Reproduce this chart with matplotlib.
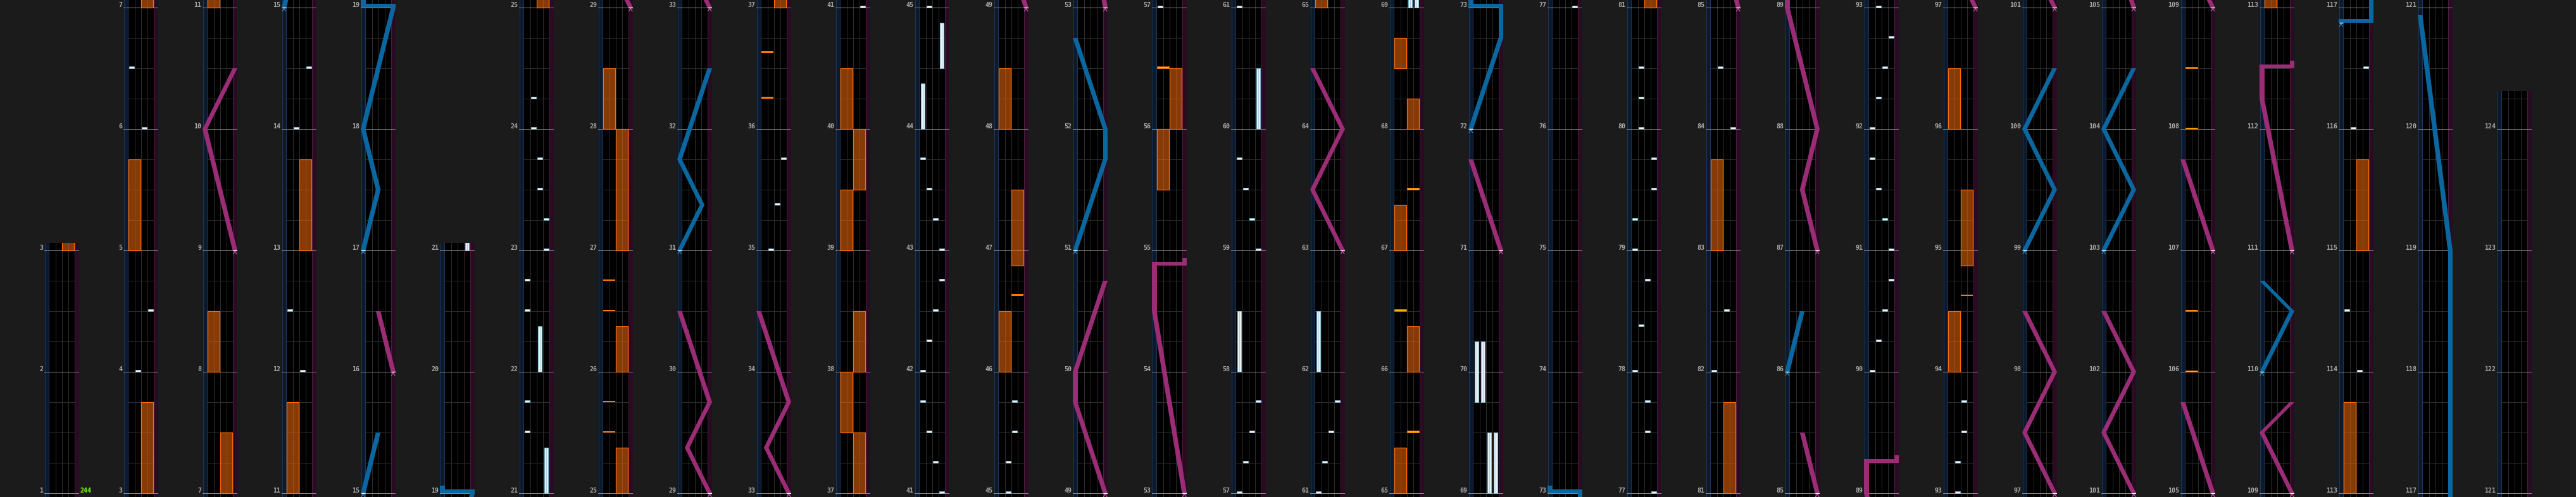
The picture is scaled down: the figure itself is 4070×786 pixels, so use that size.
import math
import matplotlib
matplotlib.use("Agg")
import matplotlib.pyplot as plt
from matplotlib.patches import Rectangle, Polygon

# ------------------------------------------------------------------
# DATA  (times are in measures, lanes 0..3 = BT A..D, side 0/1 = FX L/R)
# ------------------------------------------------------------------
column_breaks = [1, 3, 7, 11, 15, 19, 21, 25, 29, 33, 37, 41, 45, 49, 53, 57, 61,
                 65, 69, 73, 77, 81, 85, 89, 93, 97, 101, 105, 109, 113, 117, 121]
song_end = 124.25
bpm_marks = [(1, "244")]

bt_chips = [
    (4.0, 1), (4.5, 3), (6.0, 2), (6.5, 0),
    (12.0, 2), (12.5, 0), (14.0, 1), (14.5, 3),
    (21.5, 0), (21.75, 0), (22.5, 0), (22.75, 0), (23.0, 3), (23.25, 3),
    (23.5, 2), (23.75, 2), (24.0, 1), (24.25, 1),
    (35.0, 1), (35.375, 2), (35.75, 3),
    (41.0, 3), (41.25, 2), (41.5, 1), (41.75, 0), (42.0, 0), (42.25, 1),
    (42.5, 2), (42.75, 3), (43.0, 3), (43.25, 2), (43.5, 1), (43.75, 0),
    (45.0, 1), (45.25, 1), (45.5, 2), (45.75, 2),
    (57.0, 0), (57.25, 1), (57.5, 2), (57.75, 3),
    (59.0, 3), (59.25, 2), (59.5, 1), (59.75, 0),
    (61.0, 0), (61.25, 1), (61.5, 2), (61.75, 3),
    (77.0, 3), (77.5, 2), (77.75, 2), (78.0, 0), (78.375, 1), (78.75, 2),
    (79.0, 0), (79.25, 0), (79.5, 3), (79.75, 3), (80.0, 1), (80.25, 1), (80.5, 1),
    (82.0, 0), (82.5, 2), (84.0, 3), (84.5, 1),
    (90.0, 0), (90.25, 1), (90.5, 2), (90.75, 3), (91.0, 3), (91.25, 2),
    (91.5, 1), (91.75, 0), (92.0, 0), (92.25, 1), (92.5, 2), (92.75, 3),
    (93.0, 1), (93.25, 1), (93.5, 2), (93.75, 2),
    (114.0, 2), (114.5, 0), (116.0, 1), (116.5, 3),
]

bt_holds = [
    (21.0, 21.375, 3), (22.0, 22.375, 2), (44.0, 44.375, 0), (44.5, 44.875, 3),
    (58.0, 58.5, 0), (60.0, 60.5, 3), (62.0, 62.5, 0),
    (69.0, 69.5, 2), (69.0, 69.5, 3), (69.75, 70.25, 0), (69.75, 70.25, 1),
]

fx_holds = [
    (3.0, 3.75, 1), (5.0, 5.75, 0), (7.0, 7.5, 1), (8.0, 8.5, 0),
    (11.0, 11.75, 0), (13.0, 13.75, 1),
    (25.0, 25.375, 1), (26.0, 26.375, 1), (27.0, 28.0, 1), (28.0, 28.5, 0),
    (37.0, 37.5, 1), (37.5, 38.0, 0), (38.0, 38.5, 1), (39.0, 39.5, 0),
    (39.5, 40.0, 1), (40.0, 40.5, 0),
    (46.0, 46.5, 0), (46.875, 47.5, 1), (48.0, 48.5, 0),
    (55.5, 56.0, 0), (56.0, 56.5, 1),
    (65.0, 65.375, 0), (66.0, 66.375, 1), (67.0, 67.375, 0), (68.0, 68.25, 1),
    (68.5, 68.75, 0),
    (81.0, 81.75, 1), (83.0, 83.75, 0),
    (94.0, 94.5, 0), (94.875, 95.5, 1), (96.0, 96.5, 0),
    (113.0, 113.75, 0), (115.0, 115.75, 1),
]

# plain FX chips (orange) and FX chips with a sound effect (amber)
fx_chips = [
    (25.5, 0), (25.75, 0), (26.5, 0), (26.75, 0), (36.25, 0), (36.625, 0),
    (46.625, 1), (94.625, 1),
]
fx_chips_se = [
    (56.5, 0), (65.5, 1), (66.5, 0), (67.5, 1),
    (106.0, 0), (106.5, 0), (108.0, 0), (108.5, 0),
]

# lasers: list of (time, position 0..1); equal consecutive times = slam
laser_left = [
    [(15.0, 0), (15.5, 0.5)],
    [(17.0, 0), (17.5, 0.5), (18.0, 0), (19.0, 1), (19.0, 0)],
    [(31.0, 0), (31.375, 0.75), (31.75, 0), (32.5, 1)],
    [(51.0, 0), (51.75, 1), (52.0, 1), (52.75, 0)],
    [(72.0, 0), (72.75, 1), (73.0, 1), (73.0, 0)],
    [(86.0, 0), (86.5, 0.5)],
    [(99.0, 0), (99.5, 1), (100.0, 0), (100.5, 1)],
    [(103.0, 0), (103.5, 1), (104.0, 0), (104.5, 1)],
    [(110.0, 0), (110.5, 1), (110.75, 0)],
    [(116.875, 0), (116.875, 1), (119.0, 1), (120.9375, 0)],
]
laser_right = [
    [(9.0, 1), (10.0, 0), (10.5, 1)],
    [(16.0, 1), (16.5, 0.5)],
    [(29.0, 1), (29.375, 0.25), (29.75, 1), (30.5, 0)],
    [(33.0, 1), (33.375, 0.25), (33.75, 1), (34.5, 0)],
    [(49.0, 1), (49.75, 0), (50.0, 0), (50.75, 1)],
    [(53.0, 1), (54.5, 0), (54.875, 0), (54.875, 1)],
    [(63.0, 1), (63.5, 0), (64.0, 1), (64.5, 0)],
    [(71.0, 1), (71.75, 0)],
    [(85.0, 1), (85.5, 0.5)],
    [(87.0, 1), (87.5, 0.5), (88.0, 1), (89.0, 0), (89.25, 0), (89.25, 1)],
    [(97.0, 1), (97.5, 0), (98.0, 1), (98.5, 0)],
    [(101.0, 1), (101.5, 0), (102.0, 1), (102.5, 0)],
    [(105.0, 1), (105.75, 0)],
    [(107.0, 1), (107.75, 0)],
    [(109.0, 1), (109.5, 0), (109.75, 1)],
    [(111.0, 1), (112.25, 0), (112.5, 0), (112.5, 1)],
]

# ------------------------------------------------------------------
# STYLE / LAYOUT
# ------------------------------------------------------------------
FIG_W, FIG_H = 4070, 786
PX = 192.0            # pixels per measure
COL_W = 55.0          # column width (px)
STRIP = 7.5           # laser strip width
BT0 = 7.5             # left edge of BT lanes
LANE = 10.0
X0, DX = 70, 125      # first column left edge, column pitch
BG = '#1b1b1b'
LASER_COL = {'L': '#0a67a0', 'R': '#9a2d75'}
MARK_COL = {'L': '#3f8fc2', 'R': '#c766a8'}

plt.rcParams['font.family'] = ['DejaVu Sans Mono', 'DejaVu Sans']

fig = plt.figure(figsize=(FIG_W / 100, FIG_H / 100), dpi=100, facecolor=BG)

col_ranges = [(column_breaks[i], column_breaks[i + 1]) for i in range(len(column_breaks) - 1)]
col_ranges.append((column_breaks[-1], song_end))


def draw_laser(ax, pts, side):
    col = LASER_COL[side]
    span = COL_W - STRIP
    z = 6
    for (t1, p1), (t2, p2) in zip(pts[:-1], pts[1:]):
        if t1 == t2:
            xa = min(p1, p2) * span
            xb = max(p1, p2) * span + STRIP
            ax.add_patch(Rectangle((xa, t1), xb - xa, 6 / PX, fc=col, ec='none', zorder=z))
        else:
            poly = [(p1 * span, t1), (p1 * span + STRIP, t1),
                    (p2 * span + STRIP, t2), (p2 * span, t2)]
            ax.add_patch(Polygon(poly, closed=True, fc=col, ec='none', zorder=z))
    if pts[-1][0] == pts[-2][0]:
        t, p = pts[-1]
        ax.add_patch(Rectangle((p * span, t), STRIP, 12 / PX, fc=col, ec='none', zorder=z))
    # start marker
    t0, p0 = pts[0]
    cx = p0 * span + STRIP / 2
    ax.plot([cx - 3, cx, cx + 3], [t0 - 6 / PX, t0 - 1.5 / PX, t0 - 6 / PX],
            color=MARK_COL[side], lw=0.8, zorder=z + 1, solid_capstyle='butt')
    ax.plot([p0 * span + 0.5, p0 * span + STRIP - 0.5], [t0, t0], color='white',
            lw=1.0, zorder=z + 1, solid_capstyle='butt')


for k, (m0, m1) in enumerate(col_ranges):
    y0 = m0 - 6 / PX
    y1 = m1 + 12 / PX
    h = (y1 - y0) * PX
    left = X0 + DX * k
    ax = fig.add_axes([left / FIG_W, 0, COL_W / FIG_W, h / FIG_H])
    ax.set_xlim(0, COL_W)
    ax.set_ylim(y0, y1)
    ax.axis('off')

    ax.add_patch(Rectangle((0, y0), COL_W, y1 - y0, fc='black', ec='none', zorder=0))
    ax.add_patch(Rectangle((0, y0), STRIP, y1 - y0, fc='#0d1a2d', ec='none', zorder=0.5))
    ax.add_patch(Rectangle((COL_W - STRIP, y0), STRIP, y1 - y0, fc='#2a0c22', ec='none', zorder=0.5))
    for x, c in ((0.5, '#1e3654'), (STRIP - 0.5, '#1e3654'),
                 (COL_W - STRIP + 0.5, '#4e1a42'), (COL_W - 0.5, '#4e1a42')):
        ax.plot([x, x], [y0, y1], color=c, lw=0.72, zorder=0.6)
    for i in range(1, 4):
        x = BT0 + i * LANE
        ax.plot([x, x], [y0, y1], color='#2c2c2c', lw=0.72, zorder=1)

    # beat lines
    q = math.floor(y0 * 4) / 4
    while q <= y1:
        if q >= y0 and abs(q - round(q)) > 1e-9:
            ax.plot([BT0, BT0 + 4 * LANE], [q, q], color='#2e2e2e', lw=0.72, zorder=1)
        q += 0.25

    # measure lines and labels
    for m in range(int(math.ceil(m0)), int(math.floor(m1)) + 1):
        ax.plot([0, COL_W], [m, m], color='#858585', lw=0.72, zorder=1.5)
        ax.text(-1.5, m + 1.2 / PX, str(m), ha='right', va='baseline', fontsize=7.2,
                fontweight='bold', color='#a8a8a8', clip_on=False)
    for m, txt in bpm_marks:
        if m0 <= m <= m1:
            ax.text(COL_W + 1, m + 1.2 / PX, txt, ha='left', va='baseline', fontsize=7.2,
                    fontweight='bold', color='#7fff00', clip_on=False)

    lo, hi = y0, y1
    for s, e, side in fx_holds:
        if e < lo or s > hi:
            continue
        ax.add_patch(Rectangle((BT0 + side * 2 * LANE + 0.5, s), 2 * LANE - 1, e - s,
                               fc=(1.0, 0.43, 0.05, 0.53), ec='#ff6a00', lw=0.9, zorder=2))
    for chips, fc, ec in ((fx_chips, '#ff7a00', 'none'), (fx_chips_se, '#ffb000', '#ff7000')):
        for t, side in chips:
            if t < lo - 0.1 or t > hi:
                continue
            ax.add_patch(Rectangle((BT0 + side * 2 * LANE + 0.5, t), 2 * LANE - 1, 2.5 / PX,
                                   fc=fc, ec=ec, lw=0.5, zorder=3))
    for s, e, lane in bt_holds:
        if e < lo or s > hi:
            continue
        ax.add_patch(Rectangle((BT0 + lane * LANE + 2, s), LANE - 4, e - s,
                               fc='#e9f5fa', ec='#86b8cf', lw=0.8, zorder=3))
        ax.plot([BT0 + lane * LANE + 5] * 2, [s, e], color='#9fb8c4', lw=0.5, zorder=3.1)
    for t, lane in bt_chips:
        if t < lo - 0.1 or t > hi:
            continue
        ax.add_patch(Rectangle((BT0 + lane * LANE + 1, t), LANE - 2, 3 / PX,
                               fc='#f4f8fa', ec='#8cb6cb', lw=0.6, zorder=4))

    for side, lasers in (('L', laser_left), ('R', laser_right)):
        for pts in lasers:
            if pts[-1][0] + 0.1 < lo or pts[0][0] - 0.1 > hi:
                continue
            draw_laser(ax, pts, side)

fig.savefig('out.png', dpi=100, facecolor=BG)
